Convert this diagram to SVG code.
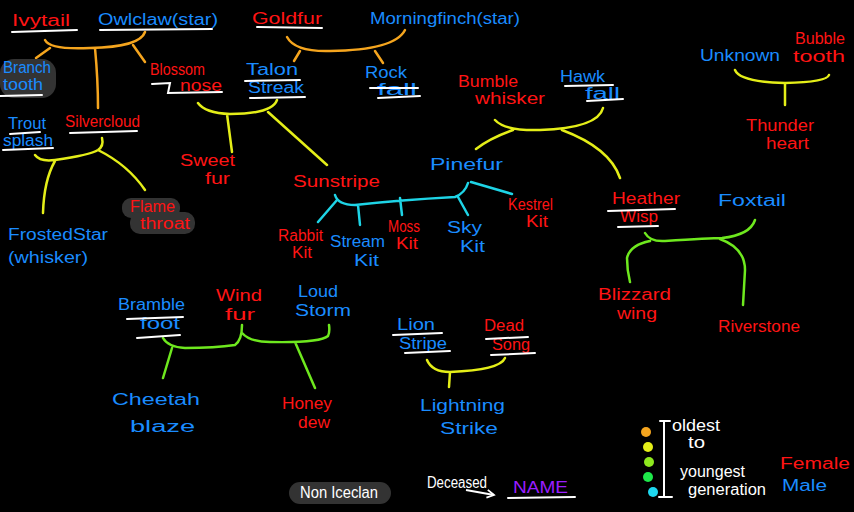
<svg xmlns="http://www.w3.org/2000/svg" width="854" height="512" viewBox="0 0 854 512">
<defs>
<style>
text{font-family:"Liberation Sans",Arial,sans-serif;font-size:16px}
.r{fill:#ff1414}
.b{fill:#1a8cff}
.w{fill:#ffffff}
.p{fill:#9a1eff}
.ul{stroke:#ffffff;stroke-width:2;fill:none;stroke-linecap:round}
.c{fill:none;stroke-width:2.5;stroke-linecap:round;stroke-linejoin:round}
.o{stroke:#f5a51e}
.y{stroke:#e4ee18}
.g{stroke:#6ee81e}
.cy{stroke:#1ed4e6}
.pill{fill:#333333}
</style>
<marker id="ah" markerWidth="10" markerHeight="10" refX="8" refY="5" orient="auto" markerUnits="userSpaceOnUse">
<path d="M1,1 L8,5 L1,9" fill="none" stroke="#fff" stroke-width="1.8"/>
</marker>
</defs>
<rect width="854" height="512" fill="#000"/>

<g id="connectors">
<path class="c o" d="M45,40 Q50,50 90,48 Q140,47 145,32 M50,48 L36,58 M95,48 Q98,80 98,108 M133,45 L145,62"/>
<path class="c o" d="M287,37 Q295,52 330,51 Q395,50 405,30 M300,51 L294,61 M375,51 L383,63"/>
<path class="c y" d="M495,120 Q505,131 540,130 Q598,128 603,108 M513,130 Q490,138 476,149 M562,130 Q610,148 620,178"/>
<path class="c y" d="M735,70 Q740,82 785,83 Q827,82 829,75 M785,83 L785,105"/>
<path class="c y" d="M35,155 Q40,162 55,160 Q90,155 98,150 Q104,146 102,138 M55,161 Q44,180 43,213 M98,150 Q128,165 145,190"/>
<path class="c y" d="M198,103 Q205,113 230,114 Q272,114 277,100 M227,114 L232,152 M268,112 L327,165"/>
<path class="c cy" d="M335,195 Q338,205 355,205 Q400,200 455,197 Q465,193 468,183 M337,200 L318,222 M358,205 L360,225 M400,198 L402,215 M458,197 L468,215 M471,182 L512,194"/>
<path class="c g" d="M645,233 Q650,242 665,241 Q710,238 722,238 Q750,235 755,220 M650,241 Q630,245 627,258 Q627,270 630,282 M720,239 Q745,248 745,270 L743,305"/>
<path class="c g" d="M163,338 Q168,347 185,348 Q215,348 235,345 Q242,340 242,325 M242,333 Q250,342 270,342 Q320,343 328,336 Q330,332 329,325 M172,348 L163,378 M295,342 L315,388"/>
<path class="c y" d="M427,360 Q432,372 450,372 Q500,370 505,358 M450,372 L449,387"/>
</g>

<g id="ivytail"><text class="r" x="12" y="26" textLength="58" lengthAdjust="spacingAndGlyphs" font-size="20">Ivytail</text><path class="ul" d="M12,32 L77,30"/></g>
<g id="owlclaw"><text class="b" x="98" y="25" textLength="120" lengthAdjust="spacingAndGlyphs" font-size="18">Owlclaw(star)</text><path class="ul" d="M100,30 L212,29"/></g>
<g id="goldfur"><text class="r" x="252" y="24" textLength="70" lengthAdjust="spacingAndGlyphs" font-size="18">Goldfur</text><path class="ul" d="M257,27 L322,28"/></g>
<g id="morningfinch"><text class="b" x="370" y="24" textLength="150" lengthAdjust="spacingAndGlyphs" font-size="17">Morningfinch(star)</text></g>
<g id="branchtooth"><rect class="pill" x="0" y="59" width="56" height="39" rx="14"/><text class="b" x="3" y="73" textLength="48" lengthAdjust="spacingAndGlyphs" font-size="14">Branch</text><text class="b" x="3" y="90" textLength="40" lengthAdjust="spacingAndGlyphs" font-size="14">tooth</text><path class="ul" d="M0,96 L42,95"/></g>
<g id="blossomnose"><text class="r" x="150" y="75" textLength="55" lengthAdjust="spacingAndGlyphs" font-size="14">Blossom</text><text class="r" x="180" y="91" textLength="42" lengthAdjust="spacingAndGlyphs" font-size="14">nose</text><path class="ul" d="M152,84 L170,83 L168,93 L222,92"/></g>
<g id="talonstreak"><text class="b" x="246" y="75" textLength="52" lengthAdjust="spacingAndGlyphs" font-size="15">Talon</text><text class="b" x="248" y="93" textLength="56" lengthAdjust="spacingAndGlyphs" font-size="15">Streak</text><path class="ul" d="M245,81 L300,80 M250,98 L305,97"/></g>
<g id="rockfall"><text class="b" x="365" y="78" textLength="42" lengthAdjust="spacingAndGlyphs" font-size="15">Rock</text><text class="b" x="377" y="95" textLength="40" lengthAdjust="spacingAndGlyphs" font-size="15">fall</text><path class="ul" d="M370,88 L418,88 M378,98 L420,96"/></g>
<g id="bumblewhisker"><text class="r" x="458" y="87" textLength="60" lengthAdjust="spacingAndGlyphs" font-size="15">Bumble</text><text class="r" x="475" y="104" textLength="70" lengthAdjust="spacingAndGlyphs" font-size="15">whisker</text></g>
<g id="hawkfall"><text class="b" x="560" y="82" textLength="45" lengthAdjust="spacingAndGlyphs" font-size="15">Hawk</text><text class="b" x="585" y="99" textLength="35" lengthAdjust="spacingAndGlyphs" font-size="15">fall</text><path class="ul" d="M565,86 L613,85 M587,101 L623,99"/></g>
<g id="unknown"><text class="b" x="700" y="61" textLength="80" lengthAdjust="spacingAndGlyphs" font-size="17">Unknown</text></g>
<g id="bubbletooth"><text class="r" x="795" y="44" textLength="50" lengthAdjust="spacingAndGlyphs" font-size="15">Bubble</text><text class="r" x="793" y="62" textLength="52" lengthAdjust="spacingAndGlyphs" font-size="15">tooth</text></g>
<g id="thunderheart"><text class="r" x="746" y="131" textLength="68" lengthAdjust="spacingAndGlyphs" font-size="15">Thunder</text><text class="r" x="766" y="149" textLength="43" lengthAdjust="spacingAndGlyphs" font-size="15">heart</text></g>
<g id="troutsplash"><text class="b" x="8" y="129" textLength="38" lengthAdjust="spacingAndGlyphs" font-size="14">Trout</text><text class="b" x="3" y="146" textLength="50" lengthAdjust="spacingAndGlyphs" font-size="14">splash</text><path class="ul" d="M10,134 L40,132 M3,150 L53,148"/></g>
<g id="silvercloud"><text class="r" x="65" y="127" textLength="75" lengthAdjust="spacingAndGlyphs" font-size="16">Silvercloud</text><path class="ul" d="M70,133 L137,131"/></g>
<g id="frostedstar"><text class="b" x="8" y="240" textLength="100" lengthAdjust="spacingAndGlyphs" font-size="17">FrostedStar</text><text class="b" x="8" y="263" textLength="80" lengthAdjust="spacingAndGlyphs" font-size="17">(whisker)</text></g>
<g id="flamethroat"><rect class="pill" x="122" y="198" width="58" height="20" rx="9"/><rect class="pill" x="130" y="212" width="65" height="22" rx="10"/><text class="r" x="130" y="212" textLength="45" lengthAdjust="spacingAndGlyphs" font-size="15">Flame</text><text class="r" x="140" y="229" textLength="50" lengthAdjust="spacingAndGlyphs" font-size="15">throat</text></g>
<g id="sweetfur"><text class="r" x="180" y="166" textLength="55" lengthAdjust="spacingAndGlyphs" font-size="16">Sweet</text><text class="r" x="205" y="184" textLength="25" lengthAdjust="spacingAndGlyphs" font-size="15">fur</text></g>
<g id="sunstripe"><text class="r" x="293" y="187" textLength="87" lengthAdjust="spacingAndGlyphs" font-size="17">Sunstripe</text></g>
<g id="pinefur"><text class="b" x="430" y="170" textLength="73" lengthAdjust="spacingAndGlyphs" font-size="17">Pinefur</text></g>
<g id="rabbitkit"><text class="r" x="278" y="241" textLength="45" lengthAdjust="spacingAndGlyphs" font-size="14">Rabbit</text><text class="r" x="292" y="258" textLength="20" lengthAdjust="spacingAndGlyphs" font-size="14">Kit</text></g>
<g id="streamkit"><text class="b" x="330" y="247" textLength="55" lengthAdjust="spacingAndGlyphs" font-size="16">Stream</text><text class="b" x="354" y="266" textLength="25" lengthAdjust="spacingAndGlyphs" font-size="16">Kit</text></g>
<g id="mosskit"><text class="r" x="388" y="232" textLength="32" lengthAdjust="spacingAndGlyphs" font-size="14">Moss</text><text class="r" x="396" y="249" textLength="22" lengthAdjust="spacingAndGlyphs" font-size="14">Kit</text></g>
<g id="skykit"><text class="b" x="447" y="233" textLength="35" lengthAdjust="spacingAndGlyphs" font-size="16">Sky</text><text class="b" x="460" y="252" textLength="25" lengthAdjust="spacingAndGlyphs" font-size="16">Kit</text></g>
<g id="kestrelkit"><text class="r" x="508" y="210" textLength="45" lengthAdjust="spacingAndGlyphs" font-size="14">Kestrel</text><text class="r" x="526" y="227" textLength="22" lengthAdjust="spacingAndGlyphs" font-size="14">Kit</text></g>
<g id="heatherwisp"><text class="r" x="612" y="204" textLength="68" lengthAdjust="spacingAndGlyphs" font-size="16">Heather</text><text class="r" x="620" y="222" textLength="38" lengthAdjust="spacingAndGlyphs" font-size="15">Wisp</text><path class="ul" d="M608,211 L675,209 M618,227 L658,226"/></g>
<g id="foxtail"><text class="b" x="718" y="206" textLength="68" lengthAdjust="spacingAndGlyphs" font-size="19">Foxtail</text></g>
<g id="blizzardwing"><text class="r" x="598" y="300" textLength="73" lengthAdjust="spacingAndGlyphs" font-size="16">Blizzard</text><text class="r" x="617" y="319" textLength="40" lengthAdjust="spacingAndGlyphs" font-size="16">wing</text></g>
<g id="riverstone"><text class="r" x="718" y="332" textLength="82" lengthAdjust="spacingAndGlyphs" font-size="17">Riverstone</text></g>
<g id="bramblefoot"><text class="b" x="118" y="310" textLength="67" lengthAdjust="spacingAndGlyphs" font-size="16">Bramble</text><text class="b" x="140" y="329" textLength="40" lengthAdjust="spacingAndGlyphs" font-size="16">foot</text><path class="ul" d="M127,319 L183,317 M137,338 L180,335"/></g>
<g id="windfur"><text class="r" x="216" y="301" textLength="46" lengthAdjust="spacingAndGlyphs" font-size="16">Wind</text><text class="r" x="225" y="320" textLength="30" lengthAdjust="spacingAndGlyphs" font-size="16">fur</text></g>
<g id="loudstorm"><text class="b" x="298" y="297" textLength="40" lengthAdjust="spacingAndGlyphs" font-size="16">Loud</text><text class="b" x="295" y="316" textLength="56" lengthAdjust="spacingAndGlyphs" font-size="16">Storm</text></g>
<g id="cheetahblaze"><text class="b" x="112" y="405" textLength="88" lengthAdjust="spacingAndGlyphs" font-size="21">Cheetah</text><text class="b" x="130" y="432" textLength="65" lengthAdjust="spacingAndGlyphs" font-size="21">blaze</text></g>
<g id="honeydew"><text class="r" x="282" y="409" textLength="50" lengthAdjust="spacingAndGlyphs" font-size="16">Honey</text><text class="r" x="298" y="428" textLength="32" lengthAdjust="spacingAndGlyphs" font-size="16">dew</text></g>
<g id="lionstripe"><text class="b" x="397" y="330" textLength="38" lengthAdjust="spacingAndGlyphs" font-size="16">Lion</text><text class="b" x="399" y="349" textLength="48" lengthAdjust="spacingAndGlyphs" font-size="16">Stripe</text><path class="ul" d="M393,335 L442,333 M405,353 L450,351"/></g>
<g id="deadsong"><text class="r" x="484" y="331" textLength="40" lengthAdjust="spacingAndGlyphs" font-size="16">Dead</text><text class="r" x="492" y="350" textLength="38" lengthAdjust="spacingAndGlyphs" font-size="16">Song</text><path class="ul" d="M486,339 L528,337 M491,355 L535,353"/></g>
<g id="lightningstrike"><text class="b" x="420" y="411" textLength="85" lengthAdjust="spacingAndGlyphs" font-size="18">Lightning</text><text class="b" x="440" y="434" textLength="58" lengthAdjust="spacingAndGlyphs" font-size="18">Strike</text></g>

<g id="legend">
<rect class="pill" x="289" y="482" width="102" height="22" rx="11"/>
<text class="w" x="300" y="498" textLength="78" lengthAdjust="spacingAndGlyphs" font-size="13">Non Iceclan</text>
<text class="w" x="427" y="488" textLength="60" lengthAdjust="spacingAndGlyphs" font-size="14">Deceased</text>
<path d="M466,490 L494,495" fill="none" stroke="#fff" stroke-width="1.8" marker-end="url(#ah)"/>
<text class="p" x="513" y="493" textLength="55" lengthAdjust="spacingAndGlyphs" font-size="19">NAME</text>
<path class="ul" d="M508,498 L575,497"/>
<circle cx="646" cy="432" r="5" fill="#f5a51e"/>
<circle cx="648" cy="447" r="5" fill="#e4ee18"/>
<circle cx="649" cy="462" r="5" fill="#8ee81e"/>
<circle cx="648" cy="477" r="5" fill="#1ee84a"/>
<circle cx="653" cy="492" r="5" fill="#1ed8f0"/>
<path class="ul" d="M660,421 L670,421 M664,421 L664,497 M659,497 L672,497"/>
<text class="w" x="672" y="431" textLength="48" lengthAdjust="spacingAndGlyphs" font-size="15">oldest</text>
<text class="w" x="688" y="448" textLength="17" lengthAdjust="spacingAndGlyphs" font-size="15">to</text>
<text class="w" x="680" y="477" textLength="65" lengthAdjust="spacingAndGlyphs" font-size="15">youngest</text>
<text class="w" x="688" y="495" textLength="78" lengthAdjust="spacingAndGlyphs" font-size="14">generation</text>
<text class="r" x="780" y="469" textLength="70" lengthAdjust="spacingAndGlyphs" font-size="18">Female</text>
<text class="b" x="782" y="491" textLength="45" lengthAdjust="spacingAndGlyphs" font-size="18">Male</text>
</g>
</svg>
